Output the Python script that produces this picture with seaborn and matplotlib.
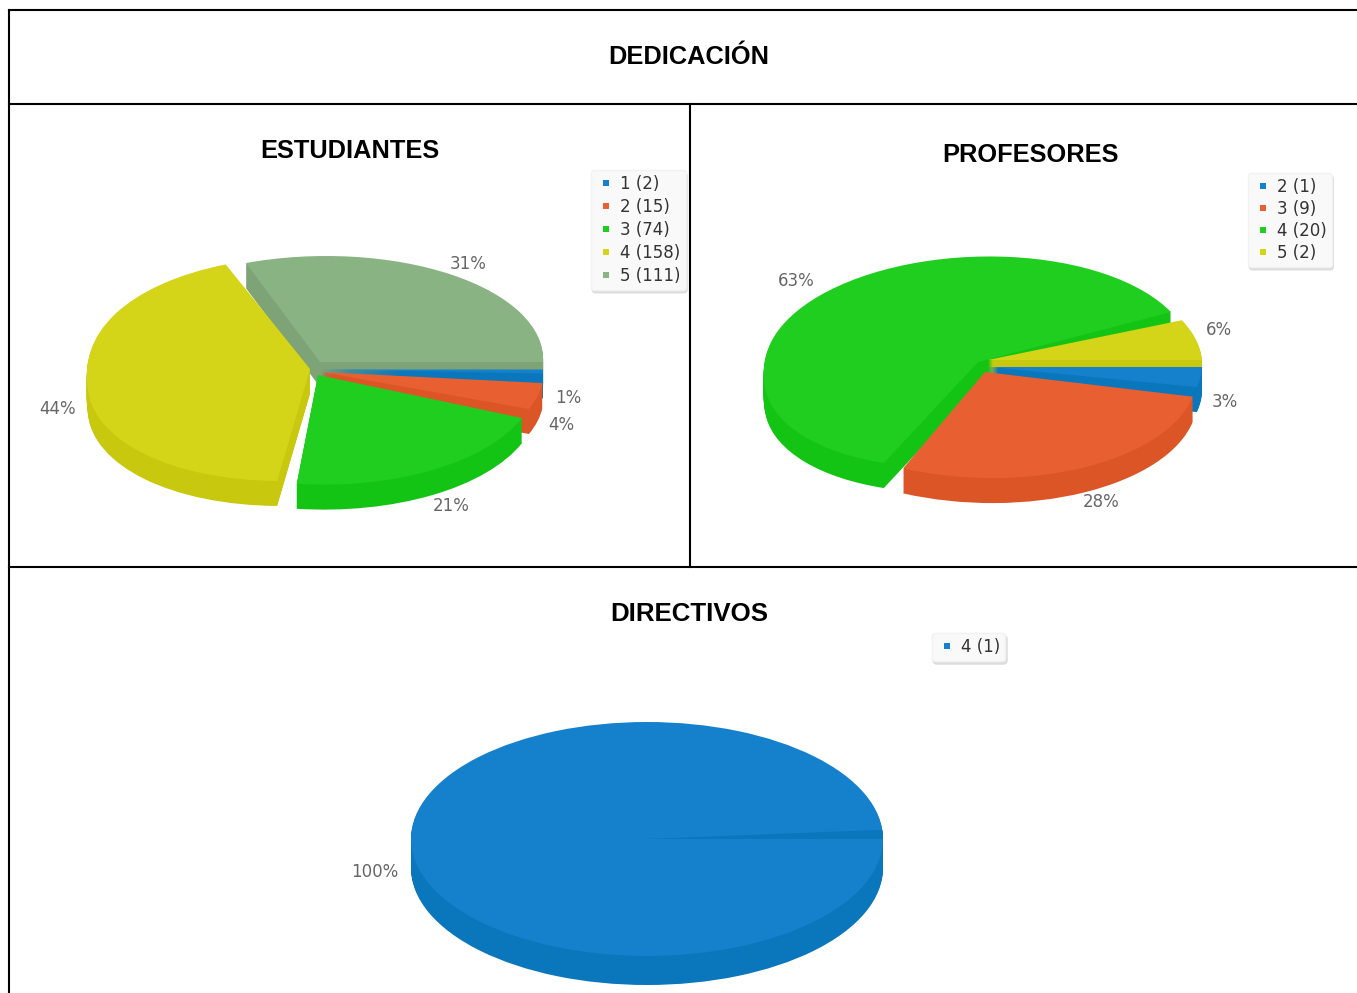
import numpy as np
import matplotlib
matplotlib.use("Agg")
import matplotlib.pyplot as plt
from matplotlib.lines import Line2D
from matplotlib.patches import Wedge
from matplotlib.transforms import Transform
import seaborn as sns

# ---- data ----
main_title = "DEDICACIÓN"
est_title = "ESTUDIANTES"
est_categories = ["1", "2", "3", "4", "5"]
est_values = [2, 15, 74, 158, 111]
prof_title = "PROFESORES"
prof_categories = ["2", "3", "4", "5"]
prof_values = [1, 9, 20, 2]
dir_title = "DIRECTIVOS"
dir_categories = ["4"]
dir_values = [1]

# ---- style ----
sns.set_theme(style="white")
plt.rcParams["font.family"] = ["DejaVu Sans"]
TITLE_FONT = ["Liberation Sans", "DejaVu Sans"]
BLUE, RED, GREEN, YELLOW, SAGE = sns.color_palette(
    ["#1580CB", "#E86032", "#20CE20", "#D4D418", "#8AB384"])
BLUE_D, RED_D, GREEN_D, YELLOW_D, SAGE_D = sns.color_palette(
    ["#0A76BC", "#DC5526", "#14C414", "#C8C80E", "#7DA377"])
LABEL_COL = "#666666"
W, H = 1357, 993
DEPTH = 25


class SliceProjection(Transform):
    """Flattened, slightly perspective view of a unit pie slice (pixel space)."""
    input_dims = output_dims = 2
    is_separable = False
    has_inverse = False

    def __init__(self, cx, cy, rx, ry, k_front=0.0, k_back=0.0, ky=0.0):
        super().__init__()
        self.p = (cx, cy, rx, ry, k_front, k_back, ky)

    def transform_non_affine(self, values):
        cx, cy, rx, ry, kf, kb, ky = self.p
        v = np.asarray(values, dtype=float)
        X, s = v[:, 0], -v[:, 1]
        x = cx + rx * X + kf * np.maximum(s, 0) + kb * np.minimum(s, 0)
        y = cy + ry * s + ky * X
        return np.column_stack([x, y])


fig = plt.figure(figsize=(W / 100, H / 100), dpi=100)
ax = fig.add_axes([0, 0, 1, 1])


def pie3d(values, top, side, proj, order, depth=DEPTH):
    """proj: per-slice projection, order: painter's order per slice."""
    for layer in range(depth, -1, -1):
        cols = top if layer == 0 else side
        wedges, _ = ax.pie(values, colors=cols, startangle=0, counterclock=False,
                           radius=1, center=(0, 0), wedgeprops={"linewidth": 0})
        for i, w in enumerate(wedges):
            cx, cy, *rest = proj[i]
            w.set_transform(SliceProjection(cx, cy + layer, *rest) + ax.transData)
            w.set_zorder(2 + order[i] + (depth - layer) * 0.001)


def percents(values):
    total = sum(values)
    return [f"{int(100 * v / total + 0.5)}%" for v in values]


def add_labels(values, positions):
    for txt, (px, py) in zip(percents(values), positions):
        ax.text(px, py + 1, txt, ha="center", va="center", fontsize=12,
                color=LABEL_COL, zorder=20)


def add_legend(cats, values, colors, corner, spacing):
    handles = [Line2D([], [], ls="", marker="s", ms=4.8, mew=0, color=c) for c in colors]
    labels = [f"{c} ({v})" for c, v in zip(cats, values)]
    leg = ax.legend(handles, labels, loc="upper left", bbox_to_anchor=corner,
                    bbox_transform=ax.transData, borderaxespad=0, fontsize=12,
                    labelspacing=spacing, handlelength=1.2, handletextpad=0.25,
                    borderpad=0.3, frameon=True, fancybox=True,
                    facecolor="#F9F9F9", edgecolor="#F2F2F2", framealpha=1,
                    labelcolor="#333333",
                    shadow={"color": "#DDDDDD", "alpha": 1, "ox": 1, "oy": -2})
    leg.set_zorder(15)
    ax.add_artist(leg)


# ---- ESTUDIANTES ----
#        cx   cy    rx   ry   k_front k_back  ky
est_proj = [
    (321, 369.5, 222, 115, 0, 0, 0),
    (321, 372, 222, 102, -15, 0, 7.5),
    (318, 375, 218.7, 109, -17.5, 0, 11.7),
    (310, 369, 220.5, 112, -29, 5.6, 0),
    (320, 362, 223, 106, 0, -6.2, 0),
]
pie3d(est_values, [BLUE, RED, GREEN, YELLOW, SAGE],
      [BLUE_D, RED_D, GREEN_D, YELLOW_D, SAGE_D], est_proj, [1, 2, 3, 4, 0])
add_labels(est_values, [(568, 397), (561, 424), (451, 505), (58, 408), (468, 263)])
add_legend(est_categories, est_values, [BLUE, RED, GREEN, YELLOW, SAGE],
           (591, 170), 0.3)

# ---- PROFESORES ----
prof_proj = [
    (988, 367, 214, 103, -5, 0, 0),
    (985, 372, 212, 106, -0.8, 0, 4.1),
    (978, 362, 213, 105, -13.7, 10, -10.6),
    (988, 360, 214, 104, 0, 10, 0),
]
pie3d(prof_values, [BLUE, RED, GREEN, YELLOW],
      [BLUE_D, RED_D, GREEN_D, YELLOW_D], prof_proj, [2, 3, 0, 1])
add_labels(prof_values, [(1225, 401), (1101, 501), (796, 280), (1219, 329)])
add_legend(prof_categories, prof_values, [BLUE, RED, GREEN, YELLOW],
           (1248, 173), 0.24)

# ---- DIRECTIVOS ----
dir_proj = [(647, 839, 236, 117, 0, 0, 0)]
pie3d(dir_values, [BLUE], [BLUE_D], dir_proj, [0], depth=29)
seam = Wedge((0, 0), 1, 0, 4.5, facecolor=BLUE_D, linewidth=0,
             transform=SliceProjection(*dir_proj[0]) + ax.transData, zorder=3)
ax.add_patch(seam)
add_labels(dir_values, [(375, 871)])
add_legend(dir_categories, dir_values, [BLUE], (932, 633), 0.3)

# ---- table frame and titles ----
ax.set_aspect("auto")
ax.set_xlim(0, W)
ax.set_ylim(H, 0)
ax.set_xticks([])
ax.set_yticks([])
ax.set_frame_on(False)

for (x0, y0, x1, y1) in [(9, 10, W, 10), (9, 10, 9, H), (9, 104, W, 104),
                         (9, 567, W, 567), (690, 104, 690, 567)]:
    ax.plot([x0, x1], [y0, y1], color="black", lw=1.5, solid_capstyle="projecting", zorder=30)

for txt, px, py, fs in [(main_title, 689, 57, 18.3), (est_title, 350, 151, 18.3),
                        (prof_title, 1030, 155, 18.3), (dir_title, 689, 614, 18.6)]:
    ax.text(px, py, txt, ha="center", va="center", fontsize=fs, fontweight="bold",
            family=TITLE_FONT, color="black", zorder=30)

fig.savefig("out.png", dpi=100, facecolor="white")
